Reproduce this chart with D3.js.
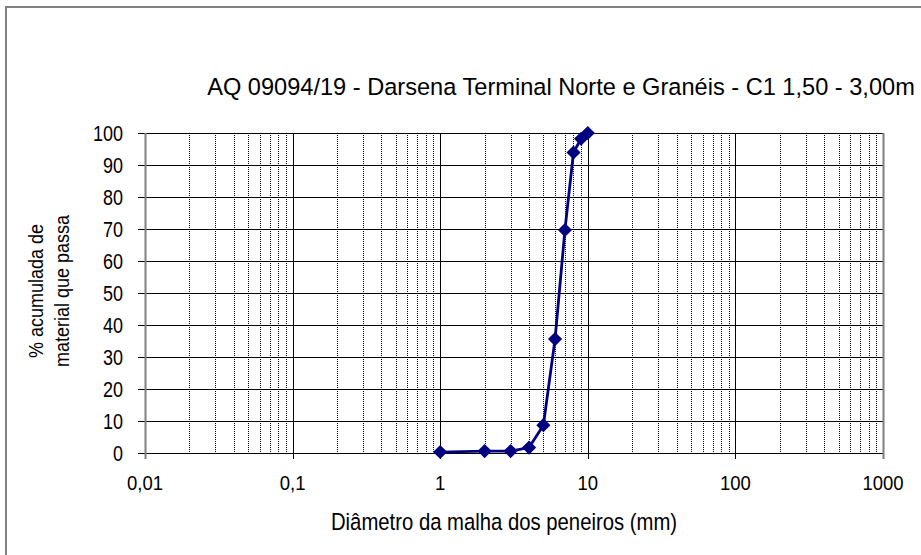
<!DOCTYPE html>
<html><head><meta charset="utf-8">
<script src="https://cdn.jsdelivr.net/npm/d3@7"></script>
<style>html,body{margin:0;padding:0;background:#fff}svg{display:block;font-family:"Liberation Sans",Arial,sans-serif}</style>
</head><body>
<svg id="c" width="921" height="555"></svg>
<script>
const title = "AQ 09094/19 - Darsena Terminal Norte e Granéis - C1 1,50 - 3,00m";
const xTitle = "Diâmetro da malha dos peneiros (mm)";
const yTitle = ["% acumulada de", "material que passa"];
const sieve = [1, 2, 3, 4, 5, 6, 7, 8, 9, 10];
const passing = [0.3, 0.6, 0.6, 1.7, 8.7, 35.6, 69.7, 93.9, 98.2, 100];
const xTickValues = [0.01, 0.1, 1, 10, 100, 1000];
const xTickLabels = ["0,01", "0,1", "1", "10", "100", "1000"];
const yTickValues = [0, 10, 20, 30, 40, 50, 60, 70, 80, 90, 100];

const svg = d3.select("#c");
const L = 145, R = 883, T = 133, B = 453;
const x = d3.scaleLog().domain([0.01, 1000]).range([L, R]);
const y = d3.scaleLinear().domain([0, 100]).range([B, T]);

// outer border
svg.append("rect").attr("x", 6).attr("y", 7).attr("width", 930).attr("height", 560)
  .attr("fill", "none").attr("stroke", "#808080").attr("stroke-width", 2);

// minor vertical grid
const minor = [];
for (let d = -2; d < 3; d++) for (let k = 2; k <= 9; k++) minor.push(k * Math.pow(10, d));
svg.append("g").selectAll("line").data(minor).join("line")
  .attr("x1", d => Math.round(x(d)) + 0.5).attr("x2", d => Math.round(x(d)) + 0.5)
  .attr("y1", T).attr("y2", B)
  .attr("stroke", "#000").attr("stroke-width", 1).attr("stroke-dasharray", "1,1");

// horizontal grid
svg.append("g").selectAll("line").data(yTickValues).join("line")
  .attr("x1", L - 7).attr("x2", R)
  .attr("y1", d => Math.round(y(d)) + 0.5).attr("y2", d => Math.round(y(d)) + 0.5)
  .attr("stroke", "#000").attr("stroke-width", 1);

// major vertical grid
svg.append("g").selectAll("line").data(xTickValues).join("line")
  .attr("x1", d => Math.round(x(d)) + 0.5).attr("x2", d => Math.round(x(d)) + 0.5)
  .attr("y1", T).attr("y2", B + 6)
  .attr("stroke", (d, i) => (i === 0 || i === xTickValues.length - 1) ? "#808080" : "#000")
  .attr("stroke-width", (d, i) => (i === 0 || i === xTickValues.length - 1) ? 2 : 1);

// y tick labels (slightly tall glyphs)
svg.append("g").selectAll("text").data(yTickValues).join("text")
  .attr("transform", d => `translate(123,${y(d)}) scale(1,1.2)`)
  .attr("dy", "0.36em")
  .attr("text-anchor", "end").attr("font-size", 18).attr("fill", "#000")
  .text(d => d);

// x tick labels
svg.append("g").selectAll("text").data(xTickValues).join("text")
  .attr("transform", d => `translate(${x(d)},490) scale(1,1.05)`)
  .attr("text-anchor", "middle").attr("font-size", 18.5).attr("fill", "#000")
  .text((d, i) => xTickLabels[i]);

// line
const line = d3.line().x((d, i) => x(sieve[i])).y(d => y(d));
svg.append("path").datum(passing).attr("d", line)
  .attr("fill", "none").attr("stroke", "#000080").attr("stroke-width", 2.8);

// diamond markers
const sym = d3.symbol().type(d3.symbolSquare).size(100);
svg.append("g").selectAll("path").data(passing).join("path")
  .attr("d", sym)
  .attr("transform", (d, i) => `translate(${x(sieve[i])},${y(d)}) rotate(45)`)
  .attr("fill", "#000080");

// title
svg.append("text").attr("transform", "translate(561,95) scale(1,1.05)").attr("text-anchor", "middle")
  .attr("font-size", 23.6).attr("fill", "#000").text(title);

// x title
svg.append("text").attr("transform", "translate(504,530) scale(1,1.2)").attr("text-anchor", "middle")
  .attr("font-size", 20.3).attr("fill", "#000").text(xTitle);

// y title
const yt = svg.append("text").attr("transform", "translate(50,291) rotate(-90) scale(1,1.1)")
  .attr("text-anchor", "middle").attr("font-size", 18).attr("fill", "#000");
yt.append("tspan").attr("x", 0).attr("y", -6.5).text(yTitle[0]);
yt.append("tspan").attr("x", 0).attr("y", 17).text(yTitle[1]);
</script>
</body></html>
